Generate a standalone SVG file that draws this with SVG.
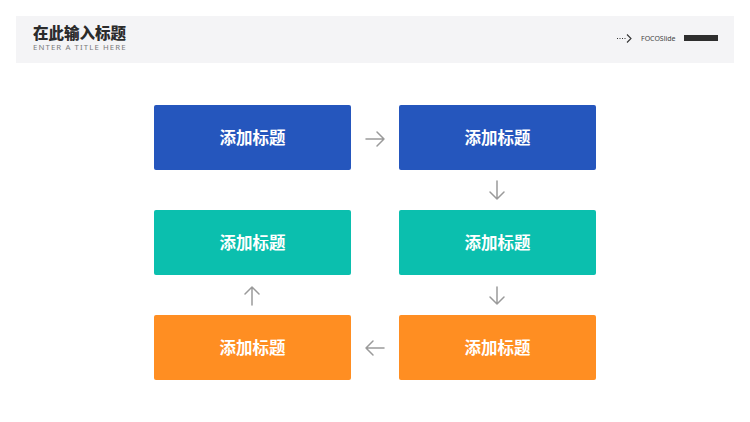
<svg xmlns="http://www.w3.org/2000/svg" width="750" height="422" viewBox="0 0 750 422">
<style>
.box{rx:2;ry:2}
.lbl{font-family:"Noto Sans CJK SC","Noto Sans",sans-serif;font-weight:700;font-size:16.5px;fill:#ffffff;text-anchor:middle}
.arr{fill:none;stroke:#9a9a9a;stroke-width:1.5;stroke-linecap:round;stroke-linejoin:round}
</style>
<rect x="0" y="0" width="750" height="422" fill="#ffffff"/>
<g id="header">
<rect x="16" y="16" width="718" height="47" fill="#f4f4f6"/>
<text x="33" y="38.5" font-family="'Noto Sans CJK SC','Noto Sans',sans-serif" font-weight="900" font-size="15.5" fill="#2b2b2b">在此输入标题</text>
<text x="33" y="50" font-family="'Noto Sans','Liberation Sans',sans-serif" font-size="7.8" letter-spacing="1.1" fill="#7a7a7a">ENTER A TITLE HERE</text>
<path d="M617 38.5 H627" stroke="#333" stroke-width="1" stroke-dasharray="1 1.5" fill="none"/>
<path d="M627 34.5 L631 38.5 L627 42.5" stroke="#333" stroke-width="1.1" fill="none"/>
<text x="641" y="41" font-family="'Noto Sans','Liberation Sans',sans-serif" font-size="7" fill="#444">FOCOSlide</text>
<rect x="684" y="35" width="34" height="6" fill="#2e2e2e"/>
</g>
<g id="n1"><rect class="box" x="154" y="105" width="197" height="65" fill="#2556bd"/><text class="lbl" x="252.5" y="143.5">添加标题</text></g>
<g id="n2"><rect class="box" x="399" y="105" width="197" height="65" fill="#2556bd"/><text class="lbl" x="497.5" y="143.5">添加标题</text></g>
<g id="n3"><rect class="box" x="154" y="210" width="197" height="65" fill="#0bbfae"/><text class="lbl" x="252.5" y="248.5">添加标题</text></g>
<g id="n4"><rect class="box" x="399" y="210" width="197" height="65" fill="#0bbfae"/><text class="lbl" x="497.5" y="248.5">添加标题</text></g>
<g id="n5"><rect class="box" x="154" y="315" width="197" height="65" fill="#ff8e22"/><text class="lbl" x="252.5" y="353.5">添加标题</text></g>
<g id="n6"><rect class="box" x="399" y="315" width="197" height="65" fill="#ff8e22"/><text class="lbl" x="497.5" y="353.5">添加标题</text></g>
<g id="connectors">
<path class="arr" d="M366 139 H384 M377 132 L384 139 L377 146"/>
<path class="arr" d="M497 181 V199 M490 192 L497 199 L504 192"/>
<path class="arr" d="M497 287 V304 M490 297 L497 304 L504 297"/>
<path class="arr" d="M384 348 H366 M373 341 L366 348 L373 355"/>
<path class="arr" d="M252 305 V287 M245 294 L252 287 L259 294"/>
</g>
</svg>
